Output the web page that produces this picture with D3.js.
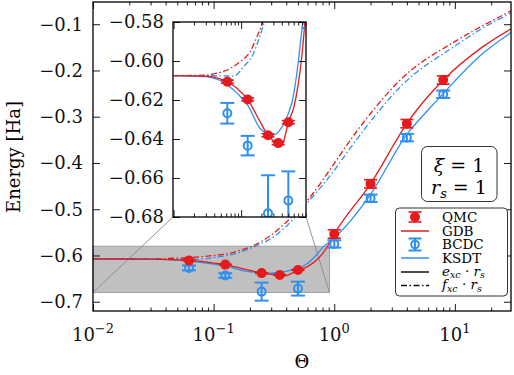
<!DOCTYPE html>
<html>
<head>
<meta charset="utf-8">
<script src="https://cdn.jsdelivr.net/npm/d3@7"></script>
<style>
body { margin: 0; background: #fff; }
svg { display: block; font-family: "DejaVu Serif", serif; }
</style>
</head>
<body>
<svg id="chart" width="514" height="375"></svg>
<script>
//========================
//   Data
//========================
var thetaQMC  = [0.0625, 0.125, 0.25, 0.3536, 0.5, 1, 2, 4, 8];
var energyQMC = [-0.6106, -0.6197, -0.6381, -0.6421, -0.6314, -0.5536, -0.4452, -0.3150, -0.2207];
var errorQMC  = [0.0008, 0.0008, 0.0008, 0.0008, 0.0008, 0.009, 0.009, 0.009, 0.009];

var thetaBCDC  = [0.0625, 0.125, 0.25, 0.5, 1, 2, 4, 8];
var energyBCDC = [-0.6268, -0.6434, -0.6781, -0.6716, -0.5750, -0.4764, -0.3452, -0.2514];
var errorBCDC  = [0.0053, 0.005, 0.0195, 0.015, 0.008, 0.008, 0.008, 0.008];

//GDB e_xc * r_s (red solid)
var thetaGDBexc = [0.01, 0.03, 0.045, 0.0625, 0.09, 0.125, 0.18, 0.25, 0.3536, 0.4, 0.45, 0.5, 0.6, 0.7, 0.8, 0.88, 1, 2, 4, 4.83, 8, 17.1, 29.2];
var GDBexc      = [-0.6075, -0.6078, -0.6088, -0.6106, -0.6145, -0.6197, -0.6295, -0.6381, -0.6425, -0.6435, -0.6380, -0.6314, -0.6240, -0.6120, -0.5960, -0.5800, -0.5540, -0.4450, -0.3150, -0.2855, -0.2210, -0.1485, -0.1100];

//KSDT e_xc * r_s (blue solid)
var thetaKSDTexc = [0.01, 0.03, 0.045, 0.0625, 0.09, 0.125, 0.19, 0.25, 0.3, 0.36, 0.42, 0.5, 0.577, 0.7, 0.8, 0.9, 1, 2, 4, 6, 8, 17.1, 29.2];
var KSDTexc      = [-0.6075, -0.6080, -0.6095, -0.6123, -0.6170, -0.6226, -0.6345, -0.6375, -0.6380, -0.6362, -0.6328, -0.6270, -0.6200, -0.6010, -0.5830, -0.5720, -0.5620, -0.4680, -0.3380, -0.2855, -0.2500, -0.1630, -0.1180];

//GDB f_xc * r_s (red dash-dot)
var thetaGDBfxc = [0.01, 0.03, 0.0394, 0.062, 0.097, 0.136, 0.171, 0.202, 0.3, 0.4, 0.634, 1, 1.356, 2, 3.51, 10.3, 17.1, 29.2];
var GDBfxc      = [-0.6075, -0.6073, -0.6066, -0.6046, -0.6003, -0.5952, -0.5877, -0.5816, -0.556, -0.528, -0.473, -0.401, -0.351, -0.293, -0.221, -0.1355, -0.103, -0.0712];

//KSDT f_xc * r_s (blue dash-dot)
var thetaKSDTfxc = [0.01, 0.05, 0.0774, 0.108, 0.152, 0.18, 0.213, 0.3, 0.4, 0.595, 1, 1.356, 2, 3.51, 10.3, 17.1, 29.2];
var KSDTfxc      = [-0.6075, -0.6076, -0.6078, -0.6030, -0.5962, -0.5895, -0.5818, -0.563, -0.537, -0.487, -0.416, -0.368, -0.310, -0.236, -0.145, -0.108, -0.076];

var xMajor = [0.01, 0.1, 1, 10];
var xLabelExp = ["\u22122", "\u22121", "0", "1"];
var yMajor = [-0.7, -0.6, -0.5, -0.4, -0.3, -0.2, -0.1];
var yInsetMajor = [-0.68, -0.66, -0.64, -0.62, -0.60, -0.58];

var red = "#e41a1c";
var blue = "#3090ef";

//========================
//   Scales
//========================
var svg = d3.select("#chart");
var x = d3.scaleLog().domain([0.01, 29.2]).range([93, 511]);
var y = d3.scaleLinear().domain([-0.72, -0.052]).range([311, 2]);
var xi = d3.scaleLog().domain([0.0098, 0.913]).range([173, 306]);
var yi = d3.scaleLinear().domain([-0.68, -0.58]).range([217, 22]);

function minorTicks(lo, hi) {
  var out = [];
  for (var d = -3; d <= 2; d++) {
    for (var k = 2; k <= 9; k++) {
      var v = k * Math.pow(10, d);
      if (v > lo && v < hi) out.push(v);
    }
  }
  return out;
}

function zipped(t, v) { return t.map(function(d, i) { return [d, v[i]]; }); }

var defs = svg.append("defs");
defs.append("clipPath").attr("id", "clipMain").append("rect")
  .attr("x", 93).attr("y", 2).attr("width", 418).attr("height", 309);
defs.append("clipPath").attr("id", "clipInset").append("rect")
  .attr("x", 173).attr("y", 22).attr("width", 133).attr("height", 195);

//draws the curves + markers for a pair of scales
function drawSeries(g, sx, sy, clipId) {
  var line = d3.line().x(function(d) { return sx(d[0]); }).y(function(d) { return sy(d[1]); })
    .curve(d3.curveMonotoneX);
  var cg = g.append("g").attr("clip-path", "url(#" + clipId + ")");

  var curves = [
    [thetaKSDTfxc, KSDTfxc, blue, "6,2.5,1.5,2.5"],
    [thetaGDBfxc, GDBfxc, red, "6,2.5,1.5,2.5"],
    [thetaKSDTexc, KSDTexc, blue, null],
    [thetaGDBexc, GDBexc, red, null]
  ];
  curves.forEach(function(c) {
    cg.append("path").datum(zipped(c[0], c[1]))
      .attr("d", line).attr("fill", "none")
      .attr("stroke", c[2]).attr("stroke-width", 1.3)
      .attr("stroke-dasharray", c[3]);
  });

  //BCDC: open circles with error bars
  thetaBCDC.forEach(function(t, i) {
    var cx = sx(t), v = energyBCDC[i], e = errorBCDC[i];
    var b = cg.append("g").attr("stroke", blue).attr("stroke-width", 2).attr("fill", "none");
    b.append("line").attr("x1", cx).attr("x2", cx).attr("y1", sy(v - e)).attr("y2", sy(v + e));
    b.append("line").attr("x1", cx - 7).attr("x2", cx + 7).attr("y1", sy(v - e)).attr("y2", sy(v - e));
    b.append("line").attr("x1", cx - 7).attr("x2", cx + 7).attr("y1", sy(v + e)).attr("y2", sy(v + e));
    b.append("circle").attr("cx", cx).attr("cy", sy(v)).attr("r", 4);
  });

  //QMC: filled circles with error bars
  thetaQMC.forEach(function(t, i) {
    var cx = sx(t), v = energyQMC[i], e = errorQMC[i];
    var q = cg.append("g").attr("stroke", red).attr("stroke-width", 1.6);
    q.append("line").attr("x1", cx).attr("x2", cx).attr("y1", sy(v - e)).attr("y2", sy(v + e));
    q.append("line").attr("x1", cx - 6.5).attr("x2", cx + 6.5).attr("y1", sy(v - e)).attr("y2", sy(v - e));
    q.append("line").attr("x1", cx - 6.5).attr("x2", cx + 6.5).attr("y1", sy(v + e)).attr("y2", sy(v + e));
    q.append("circle").attr("cx", cx).attr("cy", sy(v)).attr("r", 5).attr("fill", red).attr("stroke", "none");
  });
}

//ticks on all four sides, pointing inward
function drawFrame(g, sx, sy, xMaj, yMaj) {
  var x0 = sx.range()[0], x1 = sx.range()[1], y0 = sy.range()[1], y1 = sy.range()[0];
  var minors = minorTicks(sx.domain()[0], sx.domain()[1]);
  function clean(a) { a.select(".domain").remove(); a.selectAll("text").remove(); a.selectAll("line").attr("stroke-width", 0.9); }
  g.append("g").attr("transform", "translate(0," + y1 + ")").call(d3.axisBottom(sx).tickValues(xMaj).tickSize(-7)).call(clean);
  g.append("g").attr("transform", "translate(0," + y1 + ")").call(d3.axisBottom(sx).tickValues(minors).tickSize(-3.5)).call(clean);
  g.append("g").attr("transform", "translate(0," + y0 + ")").call(d3.axisTop(sx).tickValues(xMaj).tickSize(-7)).call(clean);
  g.append("g").attr("transform", "translate(0," + y0 + ")").call(d3.axisTop(sx).tickValues(minors).tickSize(-3.5)).call(clean);
  g.append("g").attr("transform", "translate(" + x0 + ",0)").call(d3.axisLeft(sy).tickValues(yMaj).tickSize(-7)).call(clean);
  g.append("g").attr("transform", "translate(" + x1 + ",0)").call(d3.axisRight(sy).tickValues(yMaj).tickSize(-7)).call(clean);
  g.append("rect").attr("x", x0).attr("y", y0).attr("width", x1 - x0).attr("height", y1 - y0)
    .attr("fill", "none").attr("stroke", "#000").attr("stroke-width", 1.3);
}

//========================
//   Main axes
//========================
var main = svg.append("g");

//zoom box + connector lines
main.append("rect")
  .attr("x", x(0.01)).attr("y", y(-0.58))
  .attr("width", x(0.913) - x(0.01)).attr("height", y(-0.68) - y(-0.58))
  .attr("fill", "#c0c0c0").attr("stroke", "#a0a0a0").attr("stroke-width", 1);
main.append("line").attr("x1", x(0.01)).attr("y1", y(-0.68)).attr("x2", xi(0.0098)).attr("y2", yi(-0.68))
  .attr("stroke", "#8a8a8a").attr("stroke-width", 0.9);
main.append("line").attr("x1", x(0.913)).attr("y1", y(-0.68)).attr("x2", xi(0.913)).attr("y2", yi(-0.68))
  .attr("stroke", "#8a8a8a").attr("stroke-width", 0.9);

drawSeries(main, x, y, "clipMain");
drawFrame(main, x, y, xMajor, yMajor);

//tick labels
xMajor.forEach(function(v, i) {
  var t = main.append("text").attr("x", x(v)).attr("y", 341).attr("text-anchor", "middle")
    .attr("font-size", 18).attr("fill", "#111");
  t.append("tspan").text("10");
  t.append("tspan").attr("dy", -8).attr("font-size", 13).text(xLabelExp[i]);
});
yMajor.forEach(function(v) {
  main.append("text").attr("x", 83).attr("y", y(v)).attr("dy", "0.36em")
    .attr("text-anchor", "end").attr("font-size", 18).attr("fill", "#111")
    .text(d3.format(".1f")(v));
});
main.append("text").attr("x", 302).attr("y", 368).attr("text-anchor", "middle")
  .attr("font-size", 18).text("\u0398");
main.append("text").attr("transform", "translate(20,157) rotate(-90)")
  .attr("text-anchor", "middle").attr("font-size", 18).text("Energy [Ha]");

//========================
//   Inset
//========================
var inset = svg.append("g");
inset.append("rect").attr("x", 173).attr("y", 22).attr("width", 133).attr("height", 195).attr("fill", "#fff");
drawSeries(inset, xi, yi, "clipInset");
drawFrame(inset, xi, yi, [0.01, 0.1], yInsetMajor);
yInsetMajor.forEach(function(v) {
  inset.append("text").attr("x", 164).attr("y", yi(v)).attr("dy", "0.36em")
    .attr("text-anchor", "end").attr("font-size", 18).attr("fill", "#111")
    .text(d3.format(".2f")(v));
});

//========================
//   Parameter box
//========================
var pbox = svg.append("g");
pbox.append("rect").attr("x", 421.5).attr("y", 146.5).attr("width", 75.5).attr("height", 55)
  .attr("rx", 6).attr("fill", "#fff").attr("stroke", "#333").attr("stroke-width", 1);
var t1 = pbox.append("text").attr("x", 459).attr("y", 172).attr("text-anchor", "middle").attr("font-size", 19);
t1.append("tspan").attr("font-style", "italic").text("\u03be");
t1.append("tspan").text(" = 1");
var t2 = pbox.append("text").attr("x", 459).attr("y", 194).attr("text-anchor", "middle").attr("font-size", 19);
t2.append("tspan").attr("font-style", "italic").text("r");
t2.append("tspan").attr("dy", 4).attr("font-size", 13).attr("font-style", "italic").text("s");
t2.append("tspan").attr("dy", -4).text(" = 1");

//========================
//   Legend
//========================
var leg = svg.append("g");
leg.append("rect").attr("x", 395.5).attr("y", 208).attr("width", 112).attr("height", 88)
  .attr("rx", 4).attr("fill", "#fff").attr("stroke", "#333").attr("stroke-width", 1);
var rowY = [217, 231, 244.5, 258, 272, 285.5];
var hx0 = 401, hx1 = 429, hxm = 415;

//QMC handle
var lq = leg.append("g").attr("stroke", red).attr("stroke-width", 1.6);
lq.append("line").attr("x1", hxm).attr("x2", hxm).attr("y1", rowY[0] - 5).attr("y2", rowY[0] + 5);
lq.append("line").attr("x1", hxm - 6.5).attr("x2", hxm + 6.5).attr("y1", rowY[0] - 5).attr("y2", rowY[0] - 5);
lq.append("line").attr("x1", hxm - 6.5).attr("x2", hxm + 6.5).attr("y1", rowY[0] + 5).attr("y2", rowY[0] + 5);
lq.append("circle").attr("cx", hxm).attr("cy", rowY[0]).attr("r", 5).attr("fill", red).attr("stroke", "none");
//GDB
leg.append("line").attr("x1", hx0).attr("x2", hx1).attr("y1", rowY[1]).attr("y2", rowY[1]).attr("stroke", red).attr("stroke-width", 1.5);
//BCDC handle
var lb = leg.append("g").attr("stroke", blue).attr("stroke-width", 2).attr("fill", "none");
lb.append("line").attr("x1", hxm).attr("x2", hxm).attr("y1", rowY[2] - 6).attr("y2", rowY[2] + 6);
lb.append("line").attr("x1", hxm - 6.5).attr("x2", hxm + 6.5).attr("y1", rowY[2] - 6).attr("y2", rowY[2] - 6);
lb.append("line").attr("x1", hxm - 6.5).attr("x2", hxm + 6.5).attr("y1", rowY[2] + 6).attr("y2", rowY[2] + 6);
lb.append("circle").attr("cx", hxm).attr("cy", rowY[2]).attr("r", 3.8);
//KSDT
leg.append("line").attr("x1", hx0).attr("x2", hx1).attr("y1", rowY[3]).attr("y2", rowY[3]).attr("stroke", blue).attr("stroke-width", 1.5);
//e_xc, f_xc
leg.append("line").attr("x1", hx0).attr("x2", hx1).attr("y1", rowY[4]).attr("y2", rowY[4]).attr("stroke", "#111").attr("stroke-width", 1.5);
leg.append("line").attr("x1", hx0).attr("x2", hx1).attr("y1", rowY[5]).attr("y2", rowY[5]).attr("stroke", "#111").attr("stroke-width", 1.5)
  .attr("stroke-dasharray", "6,2.5,1.5,2.5");

var legNames = ["QMC", "GDB", "BCDC", "KSDT"];
legNames.forEach(function(n, i) {
  leg.append("text").attr("x", 442).attr("y", rowY[i] + 4.5).attr("font-size", 13.5).text(n);
});
[["e", "xc"], ["f", "xc"]].forEach(function(p, i) {
  var t = leg.append("text").attr("x", 442).attr("y", rowY[4 + i] + 3.5).attr("font-size", 13.5);
  t.append("tspan").attr("font-style", "italic").text(p[0]);
  t.append("tspan").attr("dy", 2.5).attr("font-size", 9.5).attr("font-style", "italic").text(p[1]);
  t.append("tspan").attr("dy", -2.5).text(" \u00b7 ");
  t.append("tspan").attr("font-style", "italic").text("r");
  t.append("tspan").attr("dy", 2.5).attr("font-size", 9.5).attr("font-style", "italic").text("s");
});
</script>
</body>
</html>
